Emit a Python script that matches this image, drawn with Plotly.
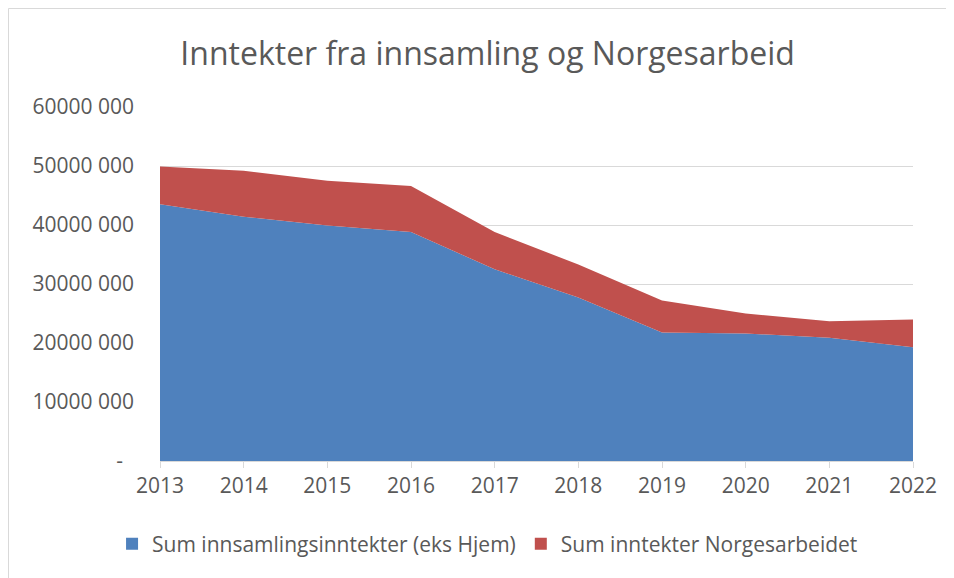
import plotly.graph_objects as go

years = ["2013", "2014", "2015", "2016", "2017", "2018", "2019", "2020", "2021", "2022"]
innsamling = [43500000, 41400000, 39900000, 38800000, 32500000, 27700000, 21800000, 21600000, 20900000, 19300000]
norgesarbeid = [6400000, 7800000, 7600000, 7800000, 6300000, 5600000, 5400000, 3400000, 2800000, 4700000]

series_names = ["Sum innsamlingsinntekter (eks Hjem)", "Sum inntekter Norgesarbeidet"]
series_colors = ["#4f81bd", "#c0504d"]

y_tickvals = [0, 10000000, 20000000, 30000000, 40000000, 50000000, 60000000]
y_ticktext = ["-\u00a0\u00a0", "10000 000", "20000 000", "30000 000", "40000 000", "50000 000", "60000 000"]

FONT = "Open Sans"
GRAY = "#595959"

W, H = 946, 570
L, R, T, B = 152, 41, 99, 117
PW, PH = W - L - R, H - T - B

fig = go.Figure()
for vals, name, col in zip([innsamling, norgesarbeid], series_names, series_colors):
    fig.add_trace(go.Scatter(
        x=years, y=vals, name=name,
        stackgroup="one", mode="none", fillcolor=col,
        line=dict(width=0), showlegend=False,
    ))
# legend entries with square markers
for name, col in zip(series_names, series_colors):
    fig.add_trace(go.Scatter(
        x=[None], y=[None], name=name, mode="markers",
        marker=dict(symbol="square", size=12, color=col),
        showlegend=True,
    ))

fig.update_layout(
    width=W, height=H,
    margin=dict(l=L, r=R, t=T, b=B),
    paper_bgcolor="white", plot_bgcolor="white",
    font=dict(family=FONT, color=GRAY),
    title=dict(text="Inntekter fra innsamling og Norgesarbeid",
               x=0.507, xanchor="center", y=0.920, yanchor="middle",
               font=dict(family=FONT, size=32, color=GRAY)),
    showlegend=True,
    legend=dict(orientation="h", x=0.435, xanchor="center", y=-0.2345, yanchor="middle",
                font=dict(family=FONT, size=21, color=GRAY), traceorder="normal",
                itemwidth=30),
    xaxis=dict(
        type="category", range=[0, 9], showgrid=False,
        showline=True, linecolor="#d9d9d9", linewidth=1,
        ticks="outside", ticklen=6, tickcolor="#d9d9d9",
        tickfont=dict(family=FONT, size=21, color=GRAY),
        zeroline=False,
    ),
    yaxis=dict(
        range=[0, 60000000], tickvals=y_tickvals, ticktext=y_ticktext,
        showgrid=True, gridcolor="#d9d9d9", gridwidth=1,
        zeroline=False, showline=False, ticks="",
        ticklabelstandoff=25,
        tickfont=dict(family=FONT, size=21, color=GRAY),
    ),
    shapes=[dict(type="rect", xref="paper", yref="paper",
                 x0=(0.5 - L) / PW, x1=(W + 10 - L) / PW,
                 y0=(T + PH - 575) / PH, y1=(T + PH - 0.5) / PH,
                 line=dict(color="#d9d9d9", width=1), fillcolor="rgba(0,0,0,0)",
                 layer="below")],
)

fig.write_html("out.html")
